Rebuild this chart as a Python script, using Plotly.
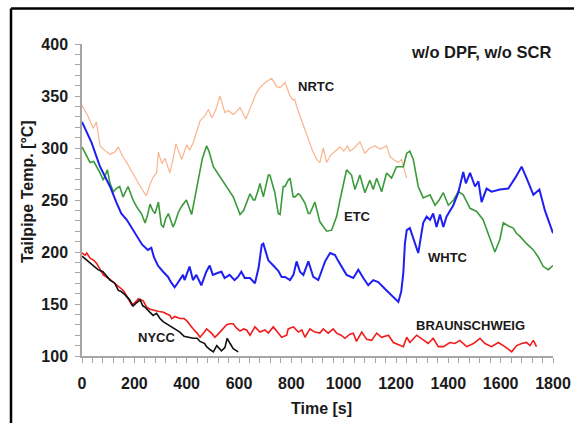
import plotly.graph_objects as go

# Tailpipe temperature traces per test cycle (time in s, temperature in °C)
nrtc_t = [0, 20, 43, 55, 69, 90, 107, 125, 139, 155, 171, 200, 225, 246, 260, 272, 285, 292, 305, 317,
          336, 350, 359, 372, 381, 400, 412, 425, 440, 451, 470, 483, 496, 510, 527, 546, 560, 578, 590,
          604, 616, 627, 645, 667, 680, 700, 725, 744, 757, 776, 795, 807, 813, 820, 840, 865, 880, 897,
          909, 922, 935, 950, 970, 986, 1000, 1015, 1024, 1040, 1062, 1081, 1100, 1120, 1140, 1164, 1177,
          1190, 1209, 1221, 1241]
nrtc_v = [341, 332, 319, 325, 302, 297, 294, 296, 301, 292, 286, 273, 262, 254, 265, 272, 276, 296, 285, 290,
          276, 292, 304, 295, 289, 303, 298, 305, 318, 326, 331, 337, 329, 336, 350, 334, 336, 332, 335,
          339, 333, 328, 340, 353, 358, 363, 367, 359, 358, 363, 350, 346, 347, 340, 326, 309, 298, 289,
          286, 300, 286, 293, 297, 301, 297, 302, 297, 300, 306, 295, 300, 302, 299, 302, 292,
          289, 286, 289, 271]

etc_t = [0, 15, 31, 45, 56, 69, 81, 97, 107, 120, 131, 144, 157, 166, 176, 195, 210, 227, 241, 250, 260,
         270, 279, 292, 303, 311, 320, 330, 348, 355, 368, 381, 399, 419, 430, 445, 460, 476, 485, 502, 520,
         540, 553, 565, 578, 592, 604, 618, 629, 642, 655, 661, 674, 680, 693, 699, 712, 718, 731, 737, 750,
         757, 769, 776, 788, 795, 807, 814, 826, 833, 852, 865, 871, 884, 890, 909, 935, 954, 973, 986, 1000,
         1011, 1030, 1043, 1062, 1081, 1100, 1113, 1126, 1145, 1164, 1183, 1202, 1228, 1241, 1253, 1266,
         1285, 1304, 1330, 1349, 1365, 1381, 1400, 1420, 1438, 1457, 1483, 1508, 1533, 1559, 1578, 1597,
         1610, 1630, 1648, 1660, 1674, 1699, 1725, 1744, 1763, 1782, 1800]
etc_v = [301, 293, 286, 287, 282, 276, 269, 279, 266, 258, 261, 263, 253, 258, 263, 250, 243, 237, 228, 235, 246,
         240, 237, 248, 226, 224, 232, 237, 224, 228, 238, 244, 250, 236, 250, 268, 290, 302, 297, 282, 275,
         268, 263, 258, 253, 244, 236, 240, 247, 256, 250, 250, 260, 266, 253, 260, 274, 274, 263, 257, 237,
         236, 263, 263, 269, 271, 253, 253, 256, 255, 247, 237, 237, 244, 248, 229, 220, 221, 234, 250, 268,
         279, 274, 260, 274, 257, 269, 260, 271, 258, 276, 271, 282, 282, 295, 297, 289,
         263, 252, 255, 245, 250, 257, 245, 250, 258, 255, 242, 239, 231, 213, 200, 212,
         228, 225, 223, 218, 215, 208, 202, 195, 186, 183, 187]

whtc_t = [0, 20, 37, 55, 69, 85, 107, 131, 150, 171, 188, 210, 230, 252, 265, 275, 290, 310, 329, 340, 354,
          365, 373, 386, 392, 411, 424, 437, 456, 475, 488, 500, 520, 533, 545, 564, 583, 596, 609, 622, 642,
          661, 675, 687, 693, 712, 731, 750, 763, 776, 795, 808, 820, 833, 846, 865, 884, 903, 916, 929, 948,
          967, 980, 993, 1011, 1037, 1056, 1075, 1094, 1113, 1132, 1164, 1190, 1209, 1220, 1228, 1234, 1241,
          1253, 1272, 1285, 1304, 1317, 1330, 1342, 1355, 1368, 1381, 1393, 1419, 1438, 1457, 1467, 1483,
          1502, 1515, 1527, 1546, 1565, 1597, 1629, 1655, 1680, 1699, 1725, 1748, 1769, 1800]
whtc_v = [325, 314, 305, 292, 282, 274, 263, 248, 237, 231, 224, 214, 207, 202, 204, 195, 187, 181, 176, 171, 166,
          170, 173, 178, 173, 186, 173, 178, 168, 181, 187, 178, 180, 181, 175, 178, 173, 176, 181, 175, 175,
          170, 185, 207, 208, 192, 187, 182, 176, 176, 173, 178, 191, 181, 178, 191, 176, 173, 182, 191, 199,
          197, 191, 186, 178, 175, 183, 175, 168, 173, 171, 163, 157, 152, 162, 180, 208, 221,
          223, 208, 199, 228, 234, 231, 237, 224, 236, 224, 234, 245, 257, 277, 266, 276,
          263, 268, 248, 261, 258, 260, 261, 271, 282, 271, 255, 260, 240, 218]

braun_t = [0, 12, 18, 31, 45, 56, 70, 81, 100, 120, 140, 158, 175, 190, 205, 215, 234, 247, 260, 272, 290,
           311, 325, 336, 343, 355, 374, 390, 400, 412, 425, 440, 451, 465, 476, 495, 508, 527, 540, 553, 565,
           578, 590, 604, 618, 629, 642, 661, 680, 699, 712, 731, 750, 763, 782, 788, 808, 827, 840, 852, 871,
           890, 909, 922, 941, 960, 973, 990, 1005, 1024, 1037, 1049, 1069, 1088, 1107, 1126, 1145, 1171,
           1190, 1215, 1228, 1241, 1253, 1279, 1304, 1323, 1342, 1362, 1381, 1406, 1425, 1444, 1470, 1496,
           1521, 1540, 1565, 1591, 1616, 1642, 1661, 1680, 1699, 1712, 1725, 1737]
braun_v = [199, 197, 199, 194, 192, 189, 183, 178, 175, 171, 167, 163, 156, 149, 152, 155, 153, 147, 145, 144, 143,
           142, 140, 139, 136, 138, 136, 136, 134, 130, 126, 122, 118, 122, 126, 122, 118, 123, 127, 130, 131,
           131, 127, 124, 126, 125, 120, 128, 123, 125, 122, 128, 122, 118, 120, 126, 128, 123, 125, 118, 126,
           123, 122, 126, 122, 126, 122, 120, 117, 121, 122, 114, 123, 116, 115, 122, 118, 120,
           113, 110, 109, 118, 113, 120, 115, 112, 117, 109, 109, 113, 112, 115, 109, 112,
           117, 112, 109, 113, 109, 104, 110, 112, 113, 110, 115, 109]

nycc_t = [0, 15, 31, 42, 61, 80, 95, 107, 125, 139, 150, 164, 182, 195, 208, 222, 233, 241, 260, 272, 285,
          298, 310, 329, 350, 374, 390, 405, 425, 440, 451, 469, 476, 490, 502, 515, 533, 546, 555, 566, 578,
          597]
nycc_v = [196, 193, 189, 187, 183, 181, 177, 173, 170, 163, 162, 159, 154, 148, 151, 154, 148, 147, 142, 139, 141,
          136, 133, 130, 127, 123, 119, 118, 117, 117, 114, 112, 109, 106, 104, 110, 105, 108, 117, 112, 107,
          104]

x_ticks = [0, 200, 400, 600, 800, 1000, 1200, 1400, 1600, 1800]
y_ticks = [100, 150, 200, 250, 300, 350, 400]

FONT = "Liberation Sans, Arial, sans-serif"
TXT = "#1a1a1a"
AXIS_GREY = "#a6a6a6"

# plot area in pixels: x 82..553, y 44..356
PL, PW, PT, PH = 82, 471, 44, 312
PB = PT + PH


def px(x):
    return (x - PL) / PW


def py(y):
    return (PB - y) / PH


fig = go.Figure()

series = [
    ("NRTC", nrtc_t, nrtc_v, "#f9b48e", 1.2),
    ("ETC", etc_t, etc_v, "#3a9a3a", 1.6),
    ("WHTC", whtc_t, whtc_v, "#1f1ff2", 2.0),
    ("BRAUNSCHWEIG", braun_t, braun_v, "#f21b1b", 1.6),
    ("NYCC", nycc_t, nycc_v, "#111111", 1.6),
]
for name, t, v, col, w in series:
    fig.add_trace(go.Scatter(x=t, y=v, mode="lines", name=name,
                             line=dict(color=col, width=w), showlegend=False))

# Cycle labels placed next to their curves
labels = [
    ("NRTC", 898, 359),
    ("ETC", 1051, 234),
    ("WHTC", 1397, 195),
    ("BRAUNSCHWEIG", 1483, 129.5),
    ("NYCC", 285, 118),
]
for txt, x, y in labels:
    fig.add_annotation(x=x, y=y, text=f"<b>{txt}</b>", showarrow=False,
                       font=dict(family=FONT, size=13, color=TXT),
                       xanchor="center", yanchor="middle")

fig.add_annotation(x=1525, y=392.6, text="<b>w/o DPF, w/o SCR</b>", showarrow=False,
                   font=dict(family=FONT, size=16.5, color=TXT),
                   xanchor="center", yanchor="middle")

# Axis titles
fig.add_annotation(xref="paper", yref="paper", x=px(321.5), y=py(408),
                   text="<b>Time [s]</b>", showarrow=False,
                   font=dict(family=FONT, size=16, color=TXT),
                   xanchor="center", yanchor="middle")
fig.add_annotation(xref="paper", yref="paper", x=px(27), y=py(192),
                   text="<b>Tailpipe Temp. [°C]</b>", showarrow=False, textangle=-90,
                   font=dict(family=FONT, size=16, color=TXT),
                   xanchor="center", yanchor="middle")

# Frame lines (top and left edge of the figure)
fig.add_shape(type="line", xref="paper", yref="paper",
              x0=px(11), x1=px(580), y0=py(8.5), y1=py(8.5),
              line=dict(color="black", width=2.5))
fig.add_shape(type="line", xref="paper", yref="paper",
              x0=px(11), x1=px(11), y0=py(8.5), y1=py(430),
              line=dict(color="black", width=2.5))

fig.update_xaxes(
    range=[0, 1800], tickvals=x_ticks, ticktext=[f"<b>{v}</b>" for v in x_ticks],
    showline=True, linecolor=AXIS_GREY, linewidth=1.5,
    ticks="outside", ticklen=5, tickcolor=AXIS_GREY, tickwidth=1,
    minor=dict(dtick=40, ticks="outside", ticklen=5, tickcolor=AXIS_GREY, tickwidth=1, showgrid=False),
    showgrid=False, zeroline=False, automargin=False,
    tickfont=dict(family=FONT, size=16, color=TXT),
    ticklabelstandoff=7,
)
fig.update_yaxes(
    range=[100, 400], tickvals=y_ticks, ticktext=[f"<b>{v}</b>" for v in y_ticks],
    showline=True, linecolor=AXIS_GREY, linewidth=1.5,
    ticks="outside", ticklen=5, tickcolor=AXIS_GREY, tickwidth=1,
    minor=dict(dtick=10, ticks="outside", ticklen=5, tickcolor=AXIS_GREY, tickwidth=1, showgrid=False),
    showgrid=False, zeroline=False, automargin=False,
    tickfont=dict(family=FONT, size=16, color=TXT),
    ticklabelstandoff=4,
)

fig.update_layout(
    width=574, height=423,
    margin=dict(l=PL, r=574 - PL - PW, t=PT, b=423 - PB),
    paper_bgcolor="white", plot_bgcolor="white",
)

fig.write_html("out.html")
